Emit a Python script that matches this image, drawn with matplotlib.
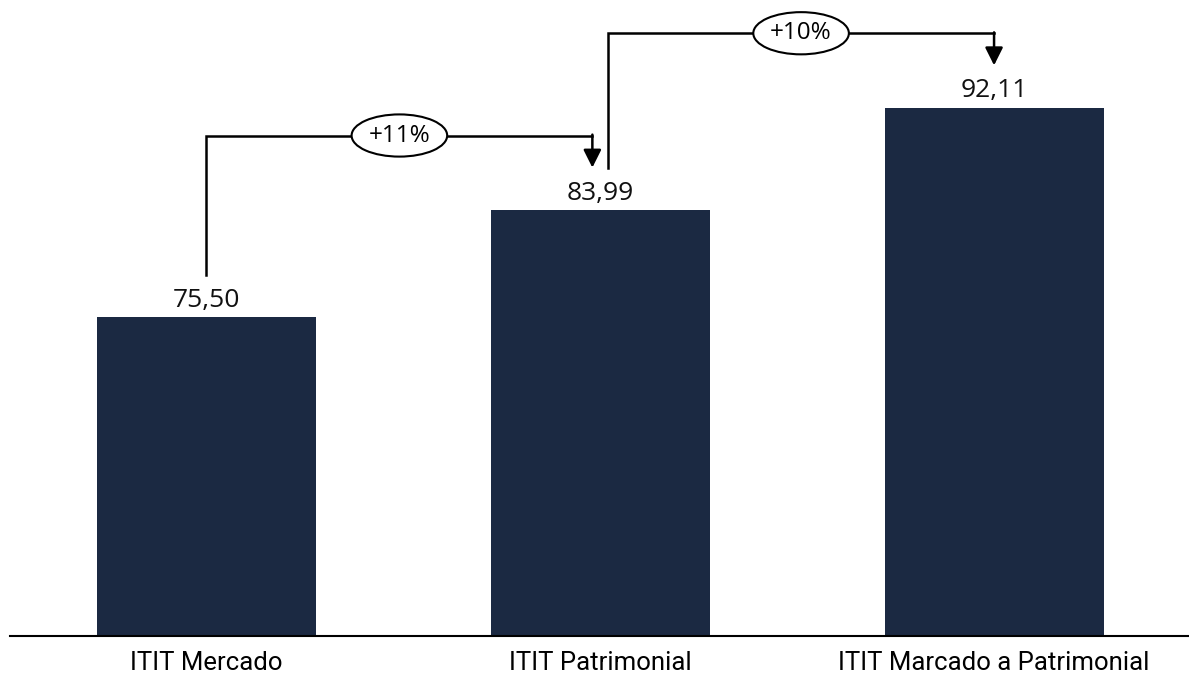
import matplotlib.pyplot as plt
import numpy as np

# --- Data ---
categories = ["ITIT Mercado", "ITIT Patrimonial", "ITIT Marcado a Patrimonial"]
values = [75.50, 83.99, 92.11]

BAR_COLOR = "#1b2942"

plt.rcParams["font.family"] = ["Open Sans", "DejaVu Sans"]

fig = plt.figure(figsize=(11.89, 6.73), dpi=100)
ax = fig.add_axes([0.008, 0.055, 0.992, 0.945])

x = np.arange(len(values))
ax.bar(x, values, width=0.556, color=BAR_COLOR, zorder=2)

ax.set_xlim(-0.5, 2.495)
ax.set_ylim(50.2, 100.7)

# --- Value labels (pt-BR decimal comma) ---
for xi, v in zip(x, values):
    ax.text(xi, v + 0.85, f"{v:.2f}".replace(".", ","), ha="center",
            va="baseline", fontsize=19, color="#111111")

# --- Growth brackets ---
starts = [0.0, 1.02]
ends = [0.98, 2.0]
for i in range(len(values) - 1):
    v0, v1 = values[i], values[i + 1]
    y_start = v0 + 3.4
    y_top = v1 + 5.95
    y_tip = v1 + 3.4
    xs, xe = starts[i], ends[i]
    ax.plot([xs, xs, xe], [y_start, y_top, y_top], color="black", lw=1.8,
            solid_joinstyle="miter", zorder=3)
    ax.annotate("", xy=(xe, y_tip), xytext=(xe, y_top + 0.07),
                arrowprops=dict(arrowstyle="-|>,head_length=0.6,head_width=0.3",
                                color="black", lw=1.8, mutation_scale=18,
                                shrinkA=0, shrinkB=0), zorder=3)
    pct = round((v1 / v0 - 1) * 100)
    ax.text((xs + xe) / 2, y_top, f"+{pct}%", ha="center", va="center",
            fontsize=17.5, zorder=4,
            bbox=dict(boxstyle="ellipse,pad=0.12", fc="white", ec="black", lw=1.5))

# --- Axes styling ---
for s in ["top", "right", "left"]:
    ax.spines[s].set_visible(False)
ax.spines["bottom"].set_linewidth(1.5)
ax.set_yticks([])
ax.set_xticks(x)
ax.set_xticklabels(categories, fontsize=18.5, family=["Roboto", "DejaVu Sans"])
ax.tick_params(axis="x", length=0, pad=11)

fig.savefig("out.png", dpi=100)
